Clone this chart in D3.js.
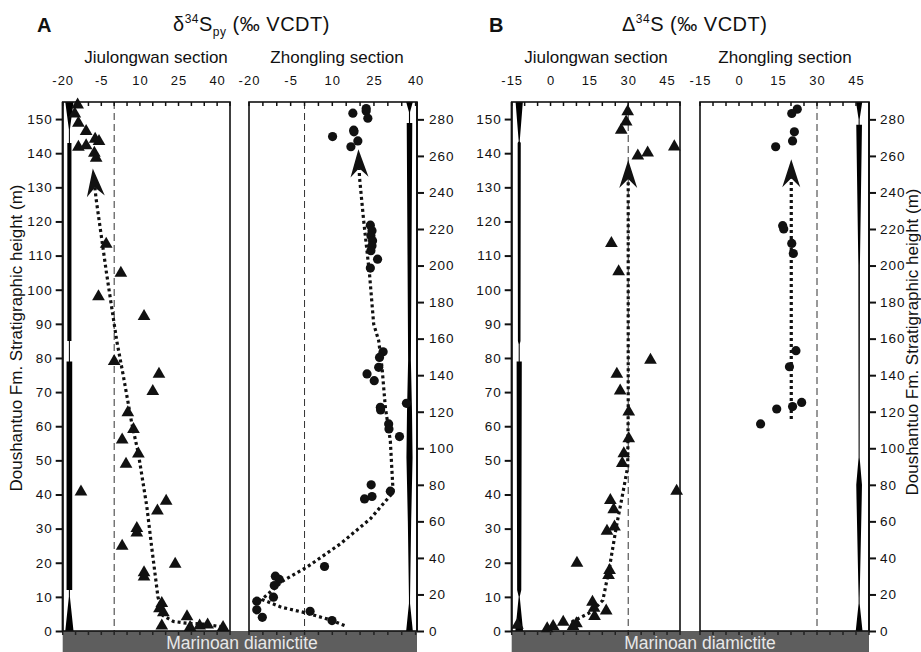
<!DOCTYPE html>
<html>
<head>
<meta charset="utf-8">
<script src="https://cdn.jsdelivr.net/npm/d3@7"></script>
<style>
body { margin: 0; background: #fff; }
text { font-family: "Liberation Sans", Arial, Helvetica, sans-serif; fill: #111; }
</style>
</head>
<body>
<div id="chart"></div>
<script>
// [value, height] pairs
var jiuDelta = [[-14.2,154.2],[-15.3,151.5],[-13.9,148.8],[-10.9,146.4],[-13.9,141.8],[-10.9,142.2],[-7.4,144.1],[-5.9,143.5],
  [-7.7,140],[-7.0,138.6],[-3.1,113.4],[2.6,104.9],[-6.1,98],[11.6,92.2],[0,79],[17.4,75.3],[15.0,70.2],[5.3,64],[7.5,59.1],
  [3.1,56],[9.4,51.9],[4.6,48.9],[-12.9,40.8],[20.2,38.1],[16.8,35.2],[8.8,30.1],[8.8,28.8],[3.1,24.9],[23.7,19.6],[11.6,17.1],
  [11.6,15.9],[18.5,8.1],[17.6,6.6],[19.1,5.4],[18.5,1.5],[28.3,4.2],[29.5,1.1],[33.2,1.5],[36.3,1.8],[42.3,1.1]];
var zhoDelta = [[22.2,285.9],[22.2,284.6],[22.8,280.6],[17.4,283.4],[17.7,274.1],[17.8,273.2],[10.1,270.6],[19.2,268.2],[16.7,265],
  [23.7,222.1],[24.3,219],[23.9,216.3],[24.5,213.6],[24.3,210.8],[23.9,208.1],[26.3,203.5],[23.7,198.6],[28.3,152.8],[27.0,149.7],
  [26.7,144.3],[22.5,140.7],[25.1,137],[27.3,122.4],[27.4,121],[36.7,124.6],[30.3,113.3],[30.4,110.6],[34.2,106.4],[24.0,80],
  [21.6,72.3],[24.3,73.6],[30.9,76.5],[7.2,35.3],[-10.5,30],[-9.1,28.2],[-10.9,24.9],[-11.2,18.5],[-17.2,16.3],[-17.2,11.6],
  [-15.2,7.5],[2.0,10.8],[9.9,5.7]];
var jiuCap = [[29.8,152.2],[29.2,149.2],[27.3,146.8],[33.7,139.2],[37.5,140.1],[47.8,141.9],[23.5,113.6],[26.3,105.3],[38.6,79.4],
  [25.6,75.3],[26.9,70.4],[30.2,64.2],[30.2,56.4],[28.3,52],[27.7,49.1],[48.7,41],[23.1,38.3],[24.4,35.6],[24.7,30.5],[21.8,29.3],
  [10.2,19.9],[22.8,17.8],[22.4,16.3],[16.2,8.5],[16.8,6.7],[21.5,5.9],[17.0,4.3],[10,2.2],[8.7,1.4],[4.9,2.6],[1.0,1.4],
  [-1.3,0.7],[-12.8,1.7]];
var zhoCap = [[22.4,285.6],[20.3,283.2],[21.3,273.2],[20.6,268.2],[14.1,265],[16.8,221.8],[17.2,220],[20.3,212.1],[20.9,206.6],
  [21.9,153.4],[19.4,144.6],[20.6,122.8],[24.1,125.1],[14.5,121.5],[8.3,113.3]];

// trend lines, last point is the arrow tip
var jiuDeltaTrend = [[42,1.2],[35,2.0],[28,2.3],[23,2.8],[19,4.5],[17,10],[14.5,25],[12.7,36.4],[9.4,52],[6.8,61],[3.5,75],
  [1,85],[-3,105],[-7,126.5],[-8.3,135.5]];
var zhoDeltaTrend = [[14.4,3],[9.2,6.1],[0.8,9.8],[-8.3,13],[-15.4,17.3],[-7.6,27.6],[0.8,34.9],[12.9,47.7],[23.7,61.4],
  [31.9,75.9],[30.9,104],[29.1,122.4],[27.9,144.3],[26.7,158.9],[24.9,168],[23.4,195.3],[21.3,224.5],[19.8,248.2],[19.4,263.7]];
var jiuCapTrend = [[8.1,2.6],[15.8,5.6],[20.2,9],[22.8,18.8],[25.4,30.5],[27.9,40.3],[29.8,48.1],[30,65],[30,129.7],[30,138]];
var zhoCapTrend = [[20.1,116],[20.1,244.5],[20.1,258.2]];

// black column profiles: [height, width in permil]
var jiuDeltaColumn = [[155,3.2],[147,0.4],[143,0.4],[143,1.6],[85,1.6],[85,0.4],[79,0.4],[79,2.2],[12,2.2],[12,0.4],[10,0.4],[0,3.2]];
var zhoDeltaColumn = [[289.5,2.4],[284,0.4],[278,0.4],[278,2.0],[200,1.4],[148,1.0],[120,1.8],[95,2.2],[60,1.2],[18,0.4],[15,0.4],[0,2.4]];
var jiuCapColumn = [[155,2.8],[143.5,0.4],[143,1.2],[85,1.0],[84,0.4],[79,0.4],[79,2.0],[12,1.6],[10,0.4],[0,3.0]];
var zhoCapColumn = [[289.5,2.4],[280,0.4],[277,0.4],[277,2.2],[200,0.6],[95,0.4],[80,2.2],[72,2.0],[18,0.4],[15,0.4],[0,2.6]];

var deltaTicks = [-20, -5, 10, 25, 40];
var capTicks = [-15, 0, 15, 30, 45];
var leftHeights = d3.range(0, 151, 10);
var rightHeights = d3.range(0, 281, 20);

var width = 921, height = 652;
var yTop = 102, yBottom = 631;
var yLeft = d3.scaleLinear().domain([0, 155]).range([yBottom, yTop]);
var yRight = d3.scaleLinear().domain([0, 289.5]).range([yBottom, yTop]);

var svg = d3.select('#chart').append('svg')
    .attr('width', width)
    .attr('height', height);

var sections = [
  {name: 'Jiulongwan section', x0: 62.7, x1: 230, domain: [-20, 45], ticks: deltaTicks, ref: 0, y: yLeft,
   data: jiuDelta, trend: jiuDeltaTrend, column: jiuDeltaColumn, columnAt: -17.4, mark: 'tri', labelX: 156},
  {name: 'Zhongling section', x0: 249, x1: 417, domain: [-20, 40.5], ticks: deltaTicks, ref: 0, y: yRight,
   data: zhoDelta, trend: zhoDeltaTrend, column: zhoDeltaColumn, columnAt: 37.8, mark: 'dot', labelX: 337},
  {name: 'Jiulongwan section', x0: 511.7, x1: 680, domain: [-15, 50], ticks: capTicks, ref: 30, y: yLeft,
   data: jiuCap, trend: jiuCapTrend, column: jiuCapColumn, columnAt: -12.1, mark: 'tri', labelX: 596},
  {name: 'Zhongling section', x0: 700, x1: 869, domain: [-15, 50], ticks: capTicks, ref: 30, y: yRight,
   data: zhoCap, trend: zhoCapTrend, column: zhoCapColumn, columnAt: 46.2, mark: 'dot', labelX: 785}
];

// grey diamictite bars
drawBase(62.7, 417, 242);
drawBase(511.7, 869, 700);

sections.forEach(drawSection);

drawHeightAxes();
drawTitles();

function drawBase(x0, x1, textX) {
    svg.append('rect')
        .attr('x', x0).attr('y', yBottom)
        .attr('width', x1 - x0).attr('height', height - yBottom)
        .style('fill', '#5e5e5e');
    svg.append('text')
        .attr('x', textX).attr('y', 649)
        .attr('text-anchor', 'middle')
        .style('font-size', '17.5px')
        .style('fill', '#e8e8e8')
        .text('Marinoan diamictite');
}

function drawSection(s) {
    var x = d3.scaleLinear().domain(s.domain).range([s.x0, s.x1]);
    var y = s.y;
    var g = svg.append('g');

    // reference dashed line
    g.append('line')
        .attr('x1', x(s.ref)).attr('x2', x(s.ref))
        .attr('y1', yTop).attr('y2', yBottom)
        .style('stroke', '#333')
        .style('stroke-width', 1)
        .style('stroke-dasharray', '7,4');

    // black column
    var area = d3.area()
        .y(function (d) { return y(d[0]); })
        .x0(function (d) { return x(s.columnAt - d[1] / 2); })
        .x1(function (d) { return x(s.columnAt + d[1] / 2); });
    g.append('path')
        .attr('d', area(s.column))
        .style('fill', '#000');

    // trend with arrow head
    var pts = s.trend.map(function (d) { return [x(d[0]), y(d[1])]; });
    var tip = pts[pts.length - 1];
    var from = pts[pts.length - 2];
    var ang = Math.atan2(tip[1] - from[1], tip[0] - from[0]);
    var arrowLen = 28, notch = 9, half = 9;
    var notchPt = [tip[0] - (arrowLen - notch) * Math.cos(ang), tip[1] - (arrowLen - notch) * Math.sin(ang)];
    var linePts = pts.slice(0, pts.length - 2).concat([from, notchPt]);
    g.append('path')
        .attr('d', d3.line()(linePts))
        .style('fill', 'none')
        .style('stroke', '#111')
        .style('stroke-width', 3.2)
        .style('stroke-dasharray', '3,3');
    g.append('path')
        .attr('d', 'M0,0L' + (-arrowLen) + ',' + (-half) + 'L' + (-(arrowLen - notch)) + ',0L' + (-arrowLen) + ',' + half + 'Z')
        .attr('transform', 'translate(' + tip[0] + ',' + tip[1] + ') rotate(' + (ang * 180 / Math.PI) + ')')
        .style('fill', '#111');

    // samples
    if (s.mark == 'tri') {
        var sym = d3.symbol().type(d3.symbolTriangle).size(70);
        g.selectAll('.tri').data(s.data).enter().append('path')
            .attr('class', 'tri')
            .attr('d', sym)
            .attr('transform', function (d) { return 'translate(' + x(d[0]) + ',' + y(d[1]) + ')'; })
            .style('fill', '#111');
    } else {
        g.selectAll('.dot').data(s.data).enter().append('circle')
            .attr('class', 'dot')
            .attr('cx', function (d) { return x(d[0]); })
            .attr('cy', function (d) { return y(d[1]); })
            .attr('r', 4.6)
            .style('fill', '#111');
    }

    // frame
    g.append('rect')
        .attr('x', s.x0).attr('y', yTop)
        .attr('width', s.x1 - s.x0).attr('height', yBottom - yTop)
        .style('fill', 'none')
        .style('stroke', '#111')
        .style('stroke-width', 1.6);

    // top and bottom ticks every 5 permil
    var minor = d3.range(Math.ceil(s.domain[0] / 5) * 5, s.domain[1] + 0.01, 5);
    g.selectAll('.tt').data(minor).enter().append('line')
        .attr('x1', function (d) { return x(d); }).attr('x2', function (d) { return x(d); })
        .attr('y1', yTop).attr('y2', yTop + 4)
        .style('stroke', '#111').style('stroke-width', 1.5);
    g.selectAll('.bt').data(minor).enter().append('line')
        .attr('x1', function (d) { return x(d); }).attr('x2', function (d) { return x(d); })
        .attr('y1', yBottom).attr('y2', yBottom + 4)
        .style('stroke', '#222').style('stroke-width', 1.5);

    g.selectAll('.tl').data(s.ticks).enter().append('text')
        .attr('x', function (d) { return x(d) + 0.5; })
        .attr('y', 85)
        .attr('text-anchor', 'middle')
        .style('font-size', '13px')
        .style('letter-spacing', '1px')
        .text(function (d) { return d; });

    g.append('text')
        .attr('x', s.labelX).attr('y', 63)
        .attr('text-anchor', 'middle')
        .style('font-size', '17px')
        .text(s.name);
}

function drawHeightAxes() {
    [[62.7, yLeft, 'left'], [511.7, yLeft, 'left'], [417, yRight, 'right'], [869, yRight, 'right']].forEach(function (a) {
        var g = svg.append('g').attr('transform', 'translate(' + a[0] + ',0)');
        var axis;
        if (a[2] == 'left') {
            axis = d3.axisLeft(a[1]).tickValues(leftHeights).tickSize(7).tickPadding(3);
        } else {
            g.call(d3.axisRight(a[1]).tickValues(d3.range(10, 281, 20)).tickSize(4).tickFormat(''));
            axis = d3.axisRight(a[1]).tickValues(rightHeights).tickSize(7).tickPadding(a[0] > 800 ? 4 : 5);
        }
        g.call(axis);
        g.selectAll('.domain').remove();
        g.selectAll('line').style('stroke', '#111').style('stroke-width', 2);
        g.selectAll('text')
            .style('font-size', '13.5px')
            .style('letter-spacing', '1px')
            .style('font-family', '"Liberation Sans", Arial, sans-serif')
            .style('fill', '#111');
        g.append('line')
            .attr('y1', yTop).attr('y2', yBottom)
            .style('stroke', '#111').style('stroke-width', 2);
    });
}

function drawTitles() {
    svg.append('text').attr('x', 37).attr('y', 32)
        .style('font-size', '20px').style('font-weight', 'bold').text('A');
    svg.append('text').attr('x', 489).attr('y', 32)
        .style('font-size', '20px').style('font-weight', 'bold').text('B');

    var t1 = svg.append('text').attr('x', 173).attr('y', 31).style('font-size', '20px').style('letter-spacing', '0.5px');
    t1.append('tspan').text('\u03b4');
    t1.append('tspan').attr('dy', -8).style('font-size', '12px').text('34');
    t1.append('tspan').attr('dy', 8).text('S');
    t1.append('tspan').attr('dy', 5).style('font-size', '12px').text('py');
    t1.append('tspan').attr('dy', -5).text(' (\u2030 VCDT)');

    var t2 = svg.append('text').attr('x', 622).attr('y', 31).style('font-size', '20px').style('letter-spacing', '0.5px');
    t2.append('tspan').text('\u0394');
    t2.append('tspan').attr('dy', -8).style('font-size', '12px').text('34');
    t2.append('tspan').attr('dy', 8).text('S (\u2030 VCDT)');

    svg.append('text')
        .attr('transform', 'translate(22,338) rotate(-90)')
        .attr('text-anchor', 'middle')
        .style('font-size', '17px')
        .text('Doushantuo Fm. Stratigraphic height (m)');
    svg.append('text')
        .attr('transform', 'translate(918,342) rotate(-90)')
        .attr('text-anchor', 'middle')
        .style('font-size', '17px')
        .text('Doushantuo Fm. Stratigraphic height (m)');
}
</script>
</body>
</html>
